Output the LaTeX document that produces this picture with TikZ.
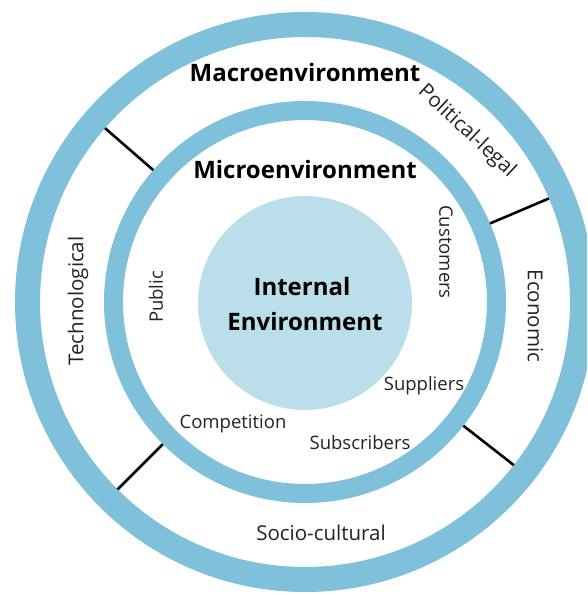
\documentclass[tikz,border=0pt]{standalone}
\usepackage{fontspec}
\setmainfont{Open Sans}
\usetikzlibrary{calc}
\definecolor{ringblue}{RGB}{127,192,218}
\definecolor{coreblue}{RGB}{187,222,235}
\definecolor{txt}{RGB}{35,35,35}
\begin{document}
\begin{tikzpicture}[x=1pt,y=1pt,
  ringline/.style={draw=ringblue},
  divider/.style={draw=black,line width=2.6pt},
  title/.style={font=\fontsize{24}{28}\selectfont\bfseries,text=black,inner sep=0pt,
    text height=17pt,text depth=0pt},
  macrolbl/.style={font=\fontsize{20.5}{24}\selectfont,text=txt,inner sep=0pt,
    text height=14.5pt,text depth=0pt},
  microlbl/.style={font=\fontsize{18.5}{22}\selectfont,text=txt,inner sep=0pt,
    text height=13.5pt,text depth=0pt}]
\useasboundingbox (0,0) rectangle (587,595);
\clip (0,0) rectangle (587,595);
\fill[white] (0,0) rectangle (587,595);
\coordinate (C) at (305,293);

% rings
\draw[ringline,line width=25pt] (C) circle (277.5);
\draw[ringline,line width=19pt] (C) circle (191.5);
\node[circle,fill=coreblue,minimum size=214pt,inner sep=0pt] (core) at (305,292) {};

% dividers between the macro segments
\foreach \a [count=\i] in {139,23,-38,225}{
  \coordinate (d\i in) at ($(C)+(\a:201)$);
  \coordinate (d\i out) at ($(C)+(\a:265)$);
  \draw[divider] (d\i in) -- (d\i out);
}

% titles
\node[title] (macro) at (305,522) {Macroenvironment};
\node[title] (micro) at (305,425) {Microenvironment};
\node[title] (internal) at (302,308) {Internal};
\node[title] (environment) at (305,273) {Environment};

% macro forces
\node[macrolbl,rotate=-43] (political) at (468,465) {Political-legal};
\node[macrolbl,rotate=-90] (economic) at (535,279) {Economic};
\node[macrolbl] (socio) at (321,62) {Socio-cultural};
\node[macrolbl,rotate=90] (techno) at (76,294) {Technological};

% micro actors
\node[microlbl,rotate=-90] (customers) at (446,343) {Customers};
\node[microlbl] (suppliers) at (424,211) {Suppliers};
\node[microlbl] (subscribers) at (360,152) {Subscribers};
\node[microlbl] (competition) at (233,173) {Competition};
\node[microlbl,rotate=90] (public) at (156,298) {Public};
\end{tikzpicture}
\end{document}
